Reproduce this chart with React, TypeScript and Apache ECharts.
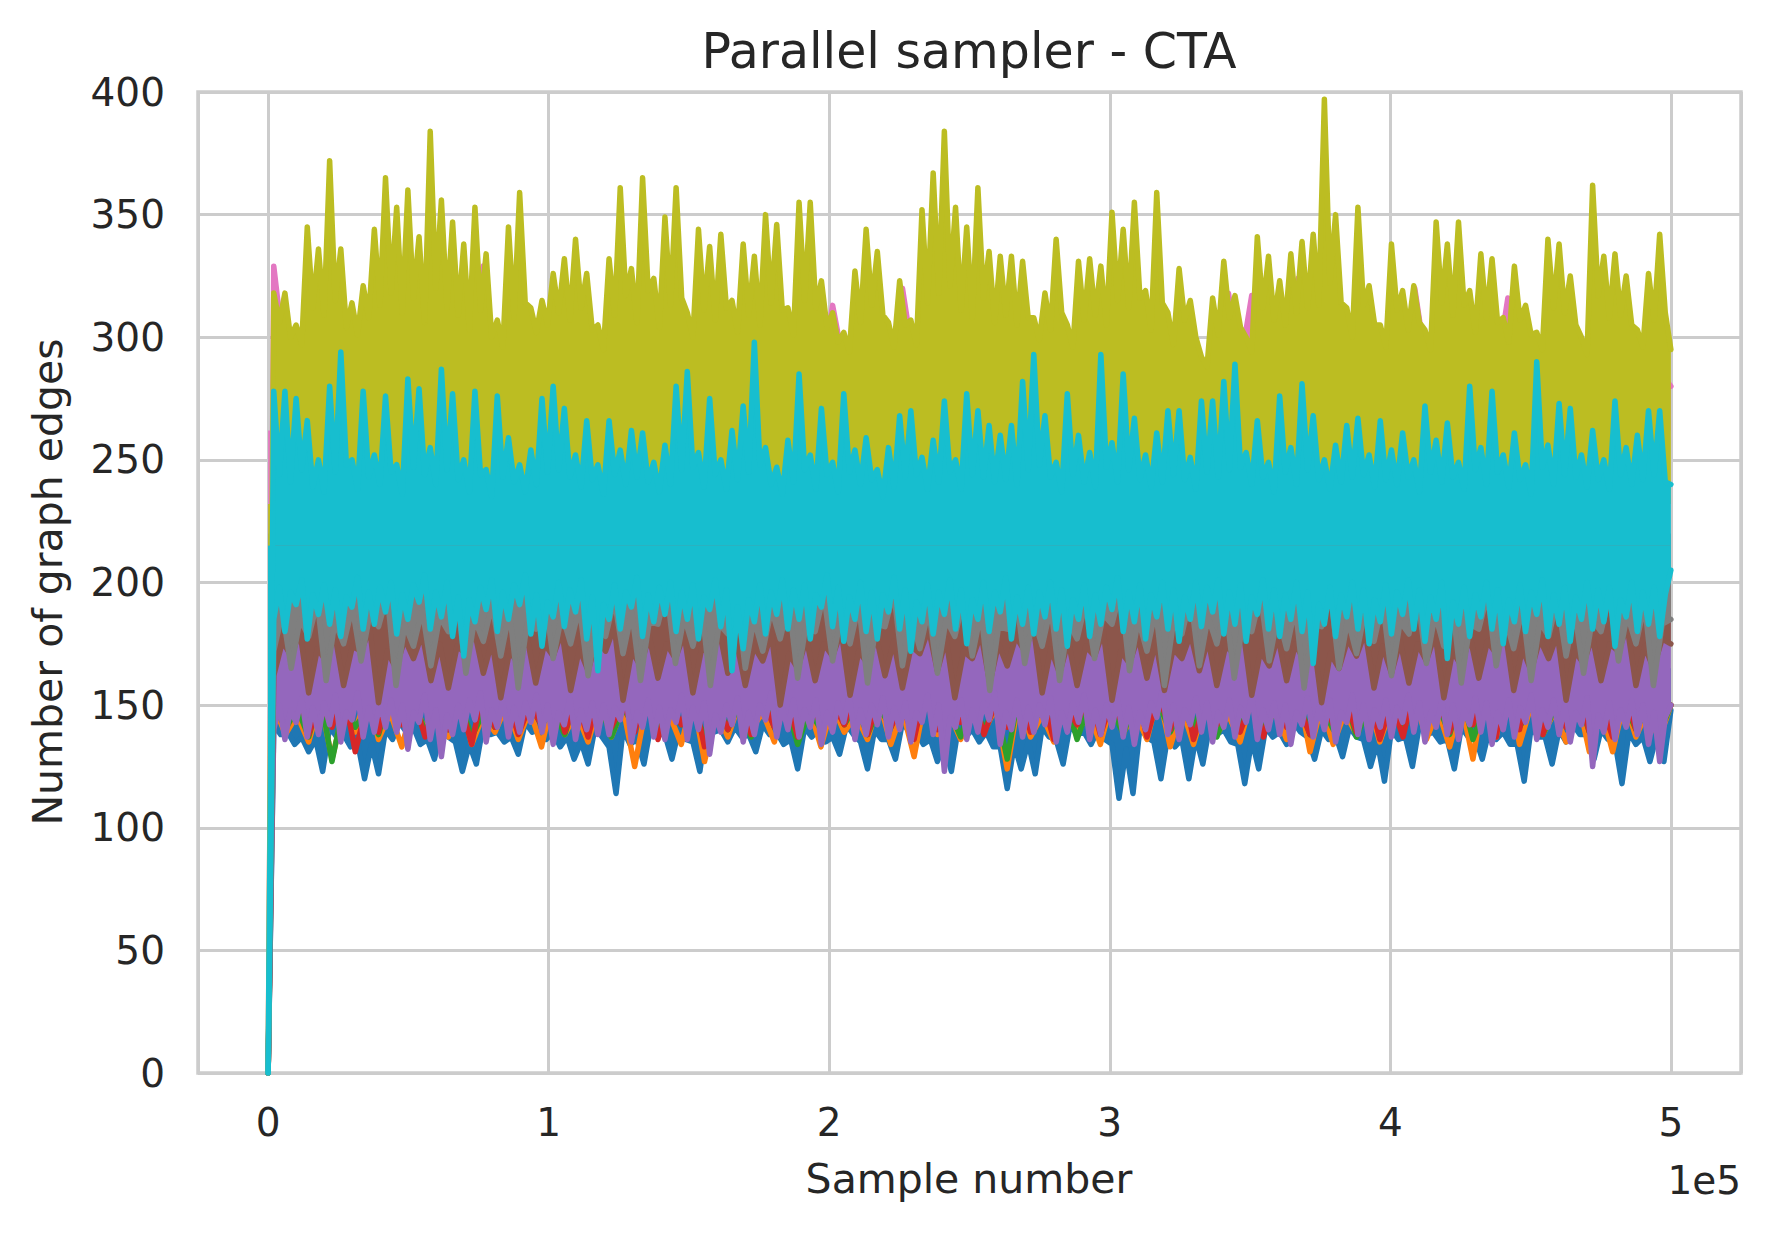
import React, { useEffect, useRef } from "react";
import * as echarts from "echarts";

const COLORS = {
  blue: "#1f77b4",
  orange: "#ff7f0e",
  green: "#2ca02c",
  red: "#d62728",
  purple: "#9467bd",
  brown: "#8c564b",
  pink: "#e377c2",
  gray: "#7f7f7f",
  olive: "#bcbd22",
  cyan: "#17becf",
};

const START_VALUE = 0;
const FIRST_SAMPLE = 2000;
const LAST_SAMPLE = 500000;

// Lower edge of the blue trace (gap top, spike bottom)
const blueLower = [
  142,138, 139,134, 137,131, 136,123, 141,137, 138,133, 135,120, 134,122, 140,136, 143,139,
  141,134, 136,128, 140,137, 135,123, 134,126, 142,138, 139,135, 137,130, 143,139, 140,136,
  139,133, 137,128, 135,126, 141,137, 133,114, 140,134, 136,126, 142,138, 138,128, 140,136,
  135,123, 143,139, 140,135, 141,137, 138,131, 142,138, 139,134, 136,124, 141,137, 140,135,
  137,130, 142,138, 135,124, 140,136, 136,128, 143,139, 139,134, 136,127, 134,123, 141,137,
  140,135, 139,133, 133,116, 134,124, 135,122, 141,137, 136,126, 142,138, 139,134, 140,136,
  134,112, 132,114, 141,137, 135,120, 138,133, 136,120, 137,126, 142,138, 140,135, 134,118,
  136,124, 141,137, 139,134, 143,139, 137,128, 140,136, 138,129, 141,137, 136,125, 135,119,
  140,136, 137,125, 142,138, 139,135, 136,124, 141,137, 137,128, 140,136, 139,134, 134,119,
  141,137, 137,126, 140,135, 142,138, 138,128, 140,136, 135,118, 139,134, 137,127, 138,127,
  148,
];

const orange = [
  150,138, 146,135, 152,128, 148,139, 155,136, 147,133, 151,140, 149,137, 153,134, 146,139,
  150,136, 148,133, 154,138, 147,135, 152,137, 149,125, 150,139, 146,134, 153,127, 148,137,
  151,140, 147,135, 155,138, 149,133, 150,139, 146,136, 152,134, 148,129, 154,138, 147,136,
  151,139, 149,124, 153,137, 146,135, 150,138, 148,134, 152,139, 147,136, 155,133, 149,134,
  151,138, 146,135, 153,139, 148,136, 156,131, 150,134, 147,138, 152,135, 149,139, 154,136,
  148,133, 151,128, 157,137, 162,134, 150,138, 147,135, 153,131, 149,131, 152,137, 148,136,
  150,
];

const green = [
  152,140, 149,137, 154,127, 150,141, 148,138, 155,142, 153,139, 149,140, 151,137, 147,141,
  153,139, 150,142, 148,138, 155,140, 151,137, 149,141, 154,139, 150,142, 147,138, 152,140,
  150,137, 155,141, 151,134, 148,140, 153,142, 150,138, 149,141, 154,139, 151,142, 148,137,
  152,140, 150,128, 155,141, 149,139, 153,136, 150,141, 148,138, 154,142, 151,139, 149,140,
  153,137, 150,141, 155,139, 148,142, 152,138, 150,140, 154,137, 149,141, 151,139, 153,142,
  150,138, 155,136, 149,140, 152,141, 150,138, 148,142, 154,139, 160,143, 151,140, 149,138,
  150,
];

const red = [
  165,140, 160,138, 152,141, 156,131, 150,139, 158,142, 153,137, 155,140, 151,134, 157,141,
  154,138, 150,142, 159,139, 152,137, 156,141, 151,139, 158,136, 153,142, 155,133, 150,140,
  157,138, 152,141, 154,137, 159,140, 151,142, 156,138, 153,141, 150,136, 158,140, 152,143,
  155,138, 151,141, 157,139, 153,136, 150,142, 156,138, 152,141, 158,137, 154,140, 160,136,
  151,142, 155,139, 152,137, 157,141, 150,138, 154,142, 153,139, 156,136, 151,137, 158,141,
  152,139, 155,142, 160,137, 166,140, 162,138, 153,141, 156,139, 151,137, 155,140, 152,141,
  150,
];

const purpleLower = [
  140,150, 136,148, 143,153, 137,149, 138,151, 142,154, 135,147, 144,155, 137,149, 139,151,
  141,152, 139,150, 132,147, 143,154, 136,148, 129,146, 138,150, 140,152, 144,155, 135,148,
  141,152, 137,149, 139,151, 143,154, 139,150, 134,147, 142,153, 136,148, 140,151, 138,150,
  138,149, 144,155, 135,147, 141,152, 137,149, 136,148, 143,154, 136,149, 140,151, 130,146,
  139,150, 142,153, 135,147, 138,150, 144,155, 137,149, 140,152, 137,148, 141,152, 134,147,
  139,151, 143,154, 136,148, 138,150, 142,153, 137,149, 140,151, 135,147, 143,154, 138,150,
  123,145, 141,152, 136,148, 139,151, 144,155, 134,147, 140,152, 137,149, 139,150, 142,153,
  135,147, 139,151, 143,154, 136,148, 138,150, 141,152, 137,149, 134,147, 140,151, 145,156,
  138,150, 136,148, 142,153, 139,151, 135,147, 141,152, 137,149, 143,154, 136,148, 140,151,
  138,150, 134,147, 142,153, 137,149, 140,152, 135,147, 143,154, 138,150, 136,148, 141,152,
  137,149, 143,154, 139,151, 135,147, 141,152, 138,150, 136,148, 142,153, 139,151, 134,147,
  140,152, 137,149, 143,154, 136,148, 141,152, 138,150, 135,147, 142,153, 125,146, 139,151,
  136,148, 141,152, 138,150, 134,147, 127,145,
  150,
];

const brownLower = [
  162,176, 170,180, 155,173, 168,179, 158,174, 172,181, 151,172, 165,177, 169,179, 160,175,
  157,174, 171,180, 163,176, 153,172, 167,178, 159,175, 170,180, 156,173, 164,177, 172,182,
  152,172, 166,178, 161,175, 169,179, 155,173, 171,181, 163,176, 158,174, 168,179, 150,171,
  165,177, 160,175, 170,180, 154,172, 167,178, 162,176, 157,174, 171,181, 164,177, 153,172,
  169,179, 159,175, 166,178, 172,182, 155,173, 163,176, 158,174, 170,180, 152,172, 167,178,
  161,176, 156,173, 169,179, 164,177, 158,174, 171,181, 154,172, 166,178, 160,175, 168,179,
  151,171, 165,177, 170,180, 157,174, 163,176, 159,175, 168,179, 153,172, 166,178, 161,176,
  171,181, 156,173, 164,177, 169,179, 152,172, 167,178, 160,175, 172,182, 158,174, 165,177,
  175,
];

const pinkUpper = [
  329,288, 292,284, 288,282, 295,286, 290,283, 296,287, 289,284, 293,285, 287,281, 329,289,
  294,286, 291,283, 316,288, 288,282, 296,287, 290,284, 292,285, 324,289, 289,283, 295,286,
  291,284, 288,282, 297,287, 290,283, 313,288, 293,285, 289,284, 320,289, 285,280, 292,285,
  288,283, 296,287, 290,284, 294,286, 287,281, 292,285, 295,286, 289,283, 291,284, 293,286,
  288,282, 318,288, 317,287, 291,284, 324,289, 294,286, 289,283, 292,285, 287,282, 320,288,
  295,286, 290,284, 293,285, 316,288, 287,282, 291,284, 296,287, 289,283, 292,285, 294,286,
  280,
];

const grayLower = [
  172,188, 165,185, 178,192, 160,184, 175,190, 168,187, 182,195, 158,183, 174,189, 166,186,
  180,194, 163,185, 176,191, 170,188, 157,183, 181,196, 169,187, 175,190, 162,184, 178,193,
  171,188, 160,184, 183,197, 167,186, 174,190, 158,183, 179,194, 165,185, 172,189, 177,192,
  161,184, 180,195, 168,187, 175,191, 159,183, 182,196, 166,186, 173,189, 163,185, 178,193,
  170,188, 156,182, 181,195, 167,186, 174,190, 160,184, 177,192, 169,187, 183,197, 164,185,
  172,189, 158,183, 179,194, 166,186, 175,191, 161,184, 180,195, 168,187, 173,190, 157,183,
  182,196, 165,185, 171,189, 176,192, 162,184, 179,194, 167,187, 174,190, 159,183, 181,195,
  166,186, 173,190, 160,184, 178,193, 170,188, 163,185, 180,195, 168,187, 175,191, 158,183,
  185,
];

const oliveUpper = [
  318,306, 318,300, 305,297, 345,312, 336,309, 372,315, 336,304, 314,301, 321,308, 344,313,
  365,318, 353,310, 360,316, 341,306, 384,320, 356,312, 347,309, 338,303, 353,311, 334,300,
  307,296, 345,308, 359,314, 312,302, 315,305, 326,310, 332,307, 340,312, 326,303, 305,295,
  332,309, 361,317, 328,306, 365,319, 324,304, 349,313, 361,316, 310,300, 344,311, 337,307,
  342,312, 315,302, 338,309, 333,305, 350,314, 346,311, 312,301, 355,315, 355,312, 323,304,
  310,298, 302,294, 327,306, 344,313, 335,309, 306,296, 323,305, 307,297, 352,314, 367,318,
  384,321, 353,311, 345,308, 361,316, 335,306, 333,309, 333,305, 331,308, 308,299, 318,303,
  340,310, 305,296, 331,307, 332,309, 329,305, 351,315, 344,312, 355,316, 319,303, 359,314,
  310,297, 328,307, 315,300, 292,288, 316,301, 331,308, 317,304, 300,294, 341,312, 333,307,
  323,305, 334,310, 339,312, 342,313, 397,322, 350,314, 312,300, 353,313, 321,305, 305,296,
  338,311, 319,303, 321,306, 303,295, 347,314, 338,309, 347,313, 319,302, 334,308, 332,306,
  308,298, 329,307, 313,301, 302,295, 340,312, 338,310, 325,305, 300,293, 362,317, 333,308,
  334,309, 325,305, 303,296, 326,307, 342,310,
  295,
];

const cyanLower = [
  185,198, 180,196, 191,201, 177,195, 187,199, 183,197, 178,194, 190,202, 181,196, 183,198,
  188,200, 179,195, 185,199, 192,203, 181,196, 186,200, 178,194, 170,193, 184,198, 189,201,
  180,196, 185,199, 191,203, 179,195, 174,192, 186,200, 182,197, 188,201, 177,194, 164,191,
  185,199, 181,196, 190,202, 178,195, 184,198, 187,200, 180,196, 185,199, 177,194, 189,201,
  182,197, 164,190, 173,193, 184,199, 179,196, 187,201, 181,197, 185,199, 177,195, 190,203,
  182,198, 176,194, 185,200, 180,196, 177,195, 188,202, 181,197, 172,192, 184,199, 179,196,
  187,201, 181,197, 175,193, 185,200, 180,196, 188,202, 177,194, 183,198, 179,196, 186,200,
  181,197, 174,193, 185,199, 178,195, 183,198, 189,202, 180,196, 184,199, 177,195, 186,200,
  181,197, 176,194, 185,200, 182,198, 188,201, 179,196, 183,199, 176,194, 187,201, 181,197,
  178,195, 185,200, 180,196, 167,191, 183,198, 178,195, 186,200, 181,197, 175,193, 184,199,
  179,196, 187,201, 181,197, 176,194, 185,200, 169,192, 183,198, 178,195, 186,200, 181,197,
  175,193, 184,199, 180,196, 187,201, 178,195, 183,198, 176,194, 185,200, 181,197, 184,198,
  174,193, 186,200, 180,196, 183,198, 178,195,
  205,
];

const cyanUpper = [
  278,244, 278,241, 275,246, 266,239, 250,237, 280,245, 294,248, 250,238, 278,243, 252,240,
  276,245, 248,236, 283,247, 279,244, 255,240, 287,246, 277,242, 250,237, 278,244, 246,235,
  276,243, 259,241, 248,237, 254,240, 275,245, 280,246, 271,243, 252,239, 266,242, 248,236,
  266,244, 254,240, 262,243, 261,241, 249,237, 256,240, 280,246, 286,247, 253,239, 275,244,
  250,238, 262,242, 272,245, 298,248, 255,240, 247,236, 258,241, 285,246, 252,238, 271,244,
  249,237, 277,245, 254,240, 259,242, 246,235, 255,239, 268,243, 270,244, 251,238, 258,241,
  274,245, 250,238, 277,244, 270,243, 264,241, 260,242, 264,240, 282,246, 293,248, 268,243,
  249,237, 277,244, 260,241, 253,239, 293,247, 257,241, 285,246, 267,242, 252,239, 261,241,
  270,244, 270,242, 251,238, 274,245, 274,243, 282,246, 289,247, 253,240, 266,243, 249,237,
  276,245, 255,240, 281,246, 268,242, 250,238, 256,241, 264,243, 267,244, 252,239, 266,242,
  254,240, 261,243, 250,237, 272,245, 258,241, 265,243, 249,238, 280,246, 255,240, 278,245,
  252,239, 261,242, 248,236, 290,247, 256,240, 273,244, 271,243, 252,239, 262,242, 250,238,
  274,244, 255,240, 260,242, 270,244, 270,241,
  240,
];

// Drawing order (matplotlib C0..C9), each trace given as its visible edge and the level its body fills to
const TRACES: { name: string; color: string; values: number[]; fillTo: number | null }[] = [
  { name: "chain 0", color: COLORS.blue, values: blueLower, fillTo: 165 },
  { name: "chain 1", color: COLORS.orange, values: orange, fillTo: null },
  { name: "chain 2", color: COLORS.green, values: green, fillTo: null },
  { name: "chain 3", color: COLORS.red, values: red, fillTo: null },
  { name: "chain 4", color: COLORS.purple, values: purpleLower, fillTo: 185 },
  { name: "chain 5", color: COLORS.brown, values: brownLower, fillTo: 200 },
  { name: "chain 6", color: COLORS.pink, values: pinkUpper, fillTo: 262 },
  { name: "chain 7", color: COLORS.gray, values: grayLower, fillTo: 220 },
  { name: "chain 8", color: COLORS.olive, values: oliveUpper, fillTo: 232 },
  { name: "chain 9", color: COLORS.cyan, values: cyanLower, fillTo: 215 },
  { name: "chain 9", color: COLORS.cyan, values: cyanUpper, fillTo: 215 },
];

const X_MIN = -25000;
const X_MAX = 525000;
const Y_MIN = 0;
const Y_MAX = 400;
const Y_STEP = 50;

function toPoints(values: number[]): [number, number][] {
  const pts: [number, number][] = [[0, START_VALUE]];
  const step = (LAST_SAMPLE - FIRST_SAMPLE) / (values.length - 1);
  values.forEach((v, i) => {
    pts.push([Math.round(FIRST_SAMPLE + i * step), v]);
  });
  return pts;
}

const FONT = "DejaVu Sans";
const TEXT = "#262626";
const GRID = "#cccccc";

export default function App() {
  const ref = useRef<HTMLDivElement | null>(null);

  useEffect(() => {
    if (!ref.current) return;
    const chart = echarts.init(ref.current, undefined, { renderer: "svg" });
    const series = TRACES.map((t, i) => {
      const s: any = {
        type: "line",
        name: t.name,
        z: 3 + i,
        data: toPoints(t.values),
        showSymbol: false,
        symbol: "none",
        silent: true,
        lineStyle: { width: 5.5, color: t.color, cap: "round", join: "round" },
        itemStyle: { color: t.color },
        emphasis: { disabled: true },
      };
      if (t.fillTo !== null) {
        s.areaStyle = { color: t.color, opacity: 1, origin: t.fillTo };
      }
      return s;
    });

    chart.setOption({
      animation: false,
      backgroundColor: "#ffffff",
      grid: {
        left: 198,
        top: 92,
        width: 1543,
        height: 981,
        show: true,
        borderColor: GRID,
        borderWidth: 3.5,
        backgroundColor: "transparent",
        containLabel: false,
      },
      xAxis: {
        type: "value",
        min: X_MIN,
        max: X_MAX,
        splitNumber: 5,
        axisLine: { show: false },
        axisTick: { show: false },
        splitLine: { show: true, lineStyle: { color: GRID, width: 3 } },
        axisLabel: {
          margin: 30,
          fontSize: 39,
          fontFamily: FONT,
          color: TEXT,
          showMinLabel: false,
          showMaxLabel: false,
          formatter: (v: number) => (v % 100000 === 0 ? String(v / 100000) : ""),
        },
      },
      yAxis: {
        type: "value",
        min: Y_MIN,
        max: Y_MAX,
        interval: Y_STEP,
        axisLine: { show: false },
        axisTick: { show: false },
        splitLine: { show: true, lineStyle: { color: GRID, width: 3 } },
        axisLabel: {
          margin: 33,
          fontSize: 39,
          fontFamily: FONT,
          color: TEXT,
        },
      },
      graphic: [
        {
          type: "text",
          x: 969,
          y: 51,
          silent: true,
          style: { text: "Parallel sampler - CTA", fontSize: 49, fontFamily: FONT, fill: TEXT, align: "center", verticalAlign: "middle" },
        },
        {
          type: "text",
          x: 969,
          y: 1179,
          silent: true,
          style: { text: "Sample number", fontSize: 41, fontFamily: FONT, fill: TEXT, align: "center", verticalAlign: "middle" },
        },
        {
          type: "text",
          x: 48,
          y: 582,
          rotation: Math.PI / 2,
          silent: true,
          style: { text: "Number of graph edges", fontSize: 41, fontFamily: FONT, fill: TEXT, align: "center", verticalAlign: "middle" },
        },
        {
          type: "text",
          x: 1741,
          y: 1180,
          silent: true,
          style: { text: "1e5", fontSize: 39, fontFamily: FONT, fill: TEXT, align: "right", verticalAlign: "middle" },
        },
      ],
      series,
    });

    return () => {
      chart.dispose();
    };
  }, []);

  return (
    <div
      ref={ref}
      style={{ position: "fixed", left: 0, top: 0, width: 1770, height: 1233, background: "#ffffff" }}
    />
  );
}
